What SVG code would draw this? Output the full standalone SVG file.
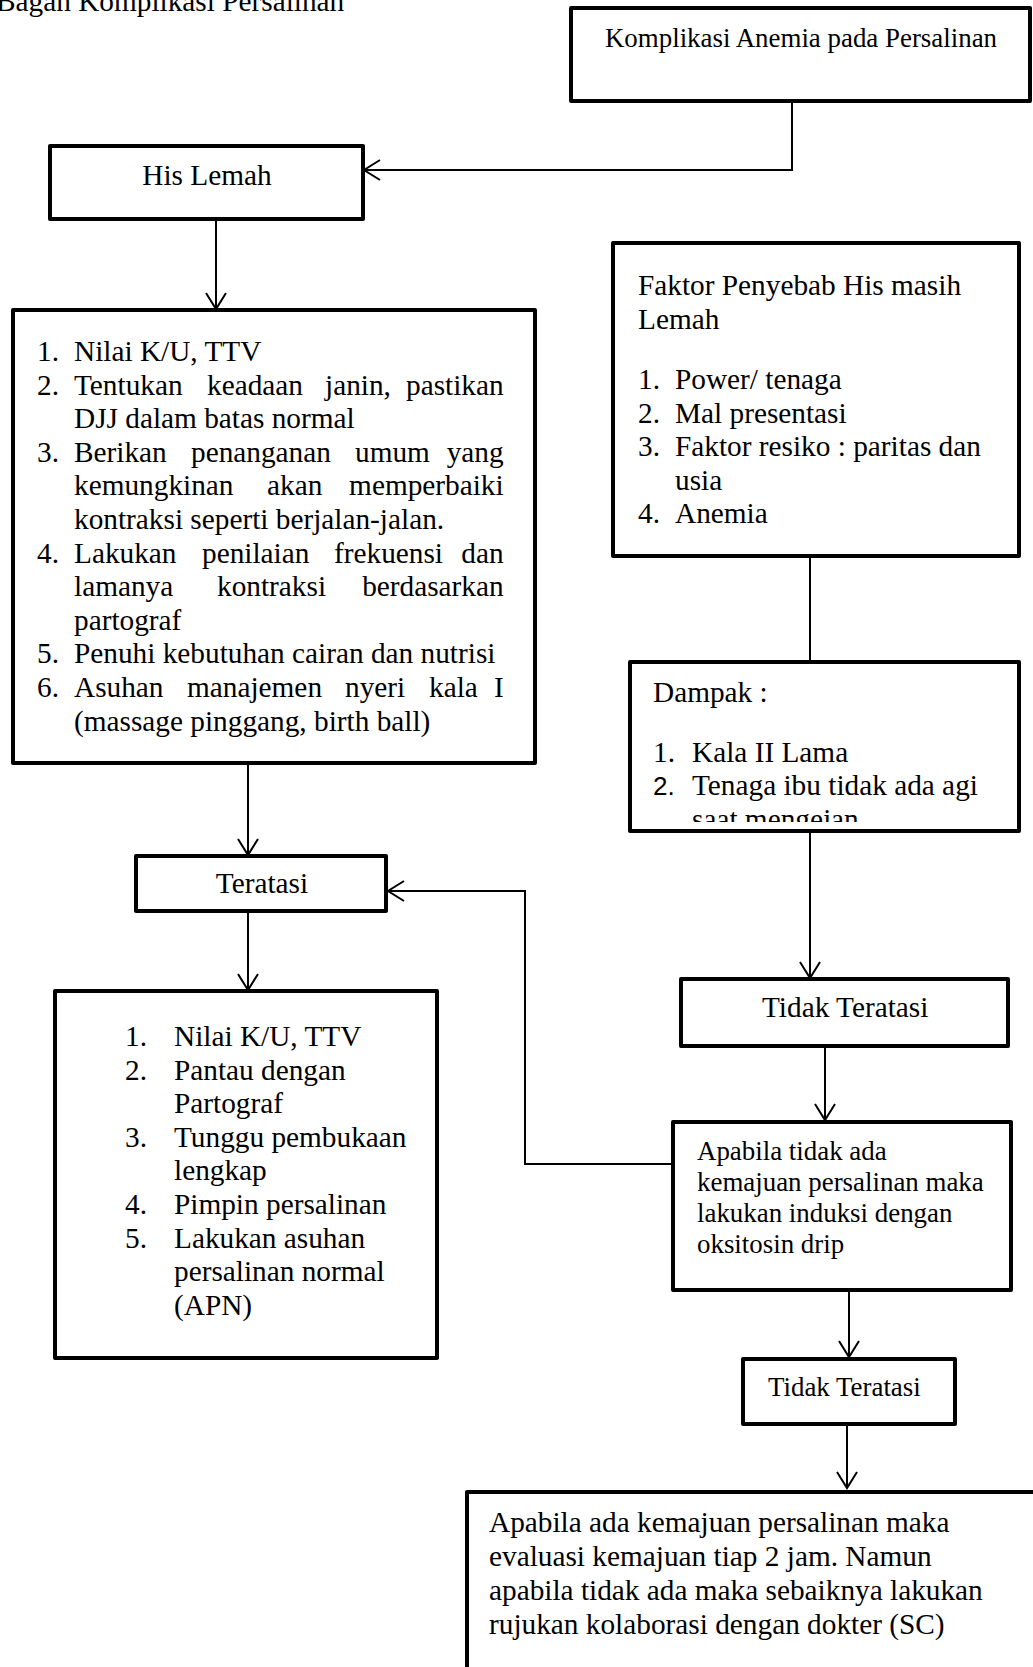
<svg xmlns="http://www.w3.org/2000/svg" width="1033" height="1667" viewBox="0 0 1033 1667">
<style>
.box{fill:#fff;stroke:#000;stroke-width:4;stroke-linejoin:round}
.con{fill:none;stroke:#000;stroke-width:2}
.t{font-family:"Liberation Serif","Times New Roman",serif;font-size:29.3px;fill:#000}
.s{font-family:"Liberation Serif","Times New Roman",serif;font-size:26.9px;fill:#000}
.sans{font-family:"Liberation Sans",Arial,sans-serif;font-size:26px;fill:#000}
</style>
<defs>
<marker id="arr" markerUnits="userSpaceOnUse" viewBox="-19 -12 21 24" refX="0" refY="0" markerWidth="21" markerHeight="24" orient="auto" overflow="visible">
<path d="M-16,-10 L0,0 L-16,10" fill="none" stroke="#000" stroke-width="2"/>
</marker>
<clipPath id="dclip"><rect x="633" y="663" width="385" height="159"/></clipPath>
</defs>
<rect width="1033" height="1667" fill="#fff"/>
<text class="t" x="-4" y="11">Bagan Komplikasi  Persalinan</text>

<g id="connectors">
<polyline class="con" points="792,101 792,170 364,170" marker-end="url(#arr)"/>
<line class="con" x1="216" y1="218" x2="216" y2="309" marker-end="url(#arr)"/>
<line class="con" x1="248" y1="763" x2="248" y2="855" marker-end="url(#arr)"/>
<line class="con" x1="248" y1="911" x2="248" y2="990" marker-end="url(#arr)"/>
<line class="con" x1="810" y1="556" x2="810" y2="661"/>
<line class="con" x1="810" y1="831" x2="810" y2="978" marker-end="url(#arr)"/>
<line class="con" x1="825" y1="1046" x2="825" y2="1120" marker-end="url(#arr)"/>
<polyline class="con" points="671,1164 525,1164 525,891 388,891" marker-end="url(#arr)"/>
<line class="con" x1="849" y1="1290" x2="849" y2="1357" marker-end="url(#arr)"/>
<line class="con" x1="847" y1="1424" x2="847" y2="1488" marker-end="url(#arr)"/>
</g>

<g id="n-komplikasi">
<rect class="box" x="571" y="8" width="459" height="93"/>
<text class="s" x="801" y="47" text-anchor="middle">Komplikasi Anemia pada Persalinan</text>
</g>

<g id="n-his-lemah">
<rect class="box" x="50" y="146" width="313" height="73"/>
<text class="t" x="207" y="185" text-anchor="middle">His Lemah</text>
</g>

<g id="n-penanganan">
<rect class="box" x="13" y="310" width="522" height="453"/>
<text class="t">
<tspan x="37" y="361">1.</tspan><tspan x="74" y="361">Nilai K/U, TTV</tspan>
<tspan x="37" y="394.6">2.</tspan><tspan x="74" y="394.6">Tentukan</tspan><tspan x="207" y="394.6">keadaan</tspan><tspan x="325" y="394.6">janin,</tspan><tspan x="511" y="394.6" text-anchor="end">pastikan</tspan>
<tspan x="74" y="428.2">DJJ dalam batas normal</tspan>
<tspan x="37" y="461.8">3.</tspan><tspan x="74" y="461.8">Berikan</tspan><tspan x="191" y="461.8">penanganan</tspan><tspan x="355" y="461.8">umum</tspan><tspan x="511" y="461.8" text-anchor="end">yang</tspan>
<tspan x="74" y="495.4">kemungkinan</tspan><tspan x="267" y="495.4">akan</tspan><tspan x="511" y="495.4" text-anchor="end">memperbaiki</tspan>
<tspan x="74" y="529">kontraksi seperti berjalan-jalan.</tspan>
<tspan x="37" y="562.6">4.</tspan><tspan x="74" y="562.6">Lakukan</tspan><tspan x="202" y="562.6">penilaian</tspan><tspan x="334" y="562.6">frekuensi</tspan><tspan x="511" y="562.6" text-anchor="end">dan</tspan>
<tspan x="74" y="596.2">lamanya</tspan><tspan x="217" y="596.2">kontraksi</tspan><tspan x="511" y="596.2" text-anchor="end">berdasarkan</tspan>
<tspan x="74" y="629.8">partograf</tspan>
<tspan x="37" y="663.4">5.</tspan><tspan x="74" y="663.4">Penuhi kebutuhan cairan dan nutrisi</tspan>
<tspan x="37" y="697">6.</tspan><tspan x="74" y="697">Asuhan</tspan><tspan x="187" y="697">manajemen</tspan><tspan x="345" y="697">nyeri</tspan><tspan x="429" y="697">kala</tspan><tspan x="511" y="697" text-anchor="end">I</tspan>
<tspan x="74" y="730.6">(massage pinggang, birth ball)</tspan>
</text>
</g>

<g id="n-faktor">
<rect class="box" x="613" y="243" width="406" height="313"/>
<text class="t">
<tspan x="638" y="295">Faktor Penyebab His masih</tspan>
<tspan x="638" y="329">Lemah</tspan>
<tspan x="638" y="389">1.</tspan><tspan x="675" y="389">Power/ tenaga</tspan>
<tspan x="638" y="422.6">2.</tspan><tspan x="675" y="422.6">Mal presentasi</tspan>
<tspan x="638" y="456.2">3.</tspan><tspan x="675" y="456.2">Faktor resiko : paritas dan</tspan>
<tspan x="675" y="489.8">usia</tspan>
<tspan x="638" y="523.4">4.</tspan><tspan x="675" y="523.4">Anemia</tspan>
</text>
</g>

<g id="n-dampak">
<rect class="box" x="630" y="662" width="389" height="169"/>
<text class="t" x="653" y="702">Dampak :</text>
<text class="t"><tspan x="653" y="762">1.</tspan><tspan x="692" y="762">Kala II Lama</tspan></text>
<text class="sans" x="653" y="795">2.</text>
<text class="t" x="692" y="795">Tenaga ibu tidak ada agi</text>
<text class="t" x="692" y="829" clip-path="url(#dclip)">saat mengejan</text>
</g>

<g id="n-teratasi">
<rect class="box" x="136" y="856" width="250" height="55"/>
<text class="t" x="262" y="893" text-anchor="middle">Teratasi</text>
</g>

<g id="n-asuhan">
<rect class="box" x="55" y="991" width="382" height="367"/>
<text class="t">
<tspan x="125" y="1046">1.</tspan><tspan x="174" y="1046">Nilai K/U, TTV</tspan>
<tspan x="125" y="1079.6">2.</tspan><tspan x="174" y="1079.6">Pantau dengan</tspan>
<tspan x="174" y="1113.2">Partograf</tspan>
<tspan x="125" y="1146.8">3.</tspan><tspan x="174" y="1146.8">Tunggu pembukaan</tspan>
<tspan x="174" y="1180.4">lengkap</tspan>
<tspan x="125" y="1214">4.</tspan><tspan x="174" y="1214">Pimpin persalinan</tspan>
<tspan x="125" y="1247.6">5.</tspan><tspan x="174" y="1247.6">Lakukan asuhan</tspan>
<tspan x="174" y="1281.2">persalinan normal</tspan>
<tspan x="174" y="1314.8">(APN)</tspan>
</text>
</g>

<g id="n-tidak-teratasi-1">
<rect class="box" x="681" y="979" width="327" height="67"/>
<text class="t" x="762" y="1017">Tidak Teratasi</text>
</g>

<g id="n-induksi">
<rect class="box" x="673" y="1122" width="338" height="168"/>
<text class="s">
<tspan x="697" y="1160">Apabila tidak ada</tspan>
<tspan x="697" y="1191">kemajuan persalinan maka</tspan>
<tspan x="697" y="1222">lakukan induksi dengan</tspan>
<tspan x="697" y="1253">oksitosin drip</tspan>
</text>
</g>

<g id="n-tidak-teratasi-2">
<rect class="box" x="743" y="1359" width="212" height="65"/>
<text class="s" x="768" y="1396">Tidak Teratasi</text>
</g>

<g id="n-rujukan">
<rect class="box" x="467" y="1492" width="580" height="200"/>
<text class="t">
<tspan x="489" y="1532">Apabila ada kemajuan persalinan maka</tspan>
<tspan x="489" y="1566">evaluasi kemajuan tiap 2 jam. Namun</tspan>
<tspan x="489" y="1600">apabila tidak ada maka sebaiknya lakukan</tspan>
<tspan x="489" y="1634">rujukan kolaborasi dengan dokter (SC)</tspan>
</text>
</g>
</svg>
